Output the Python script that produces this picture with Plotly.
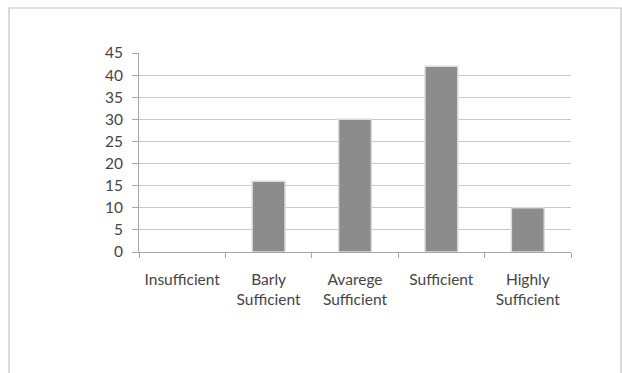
import plotly.graph_objects as go

categories = ["Insufficient", "Barly<br>Sufficient", "Avarege<br>Sufficient", "Sufficient", "Highly<br>Sufficient"]
values = [0, 16, 30, 42, 10]
y_ticks = [0, 5, 10, 15, 20, 25, 30, 35, 40, 45]

W, H = 622, 373
L, R, T, B = 139, 51, 53, 121
pw, ph = W - L - R, H - T - B

fig = go.Figure(go.Bar(
    x=categories, y=values,
    marker=dict(color="#8c8c8c",
                line=dict(color="#dcdcdc", width=[1.5 if v > 0 else 0 for v in values])),
))

fig.update_layout(
    width=W, height=H,
    margin=dict(l=L, r=R, t=T, b=B),
    paper_bgcolor="white", plot_bgcolor="white",
    bargap=0.62,
    showlegend=False,
    font=dict(family="Lato, Open Sans, sans-serif", size=15.5, color="#454545"),
    shapes=[dict(
        type="rect", xref="paper", yref="paper",
        x0=(9 - L) / pw, x1=(621 - L) / pw,
        y0=-(380 - (H - B)) / ph,
        y1=((H - B) - 8) / ph,
        line=dict(color="#c4c4c4", width=1.2),
        fillcolor="rgba(0,0,0,0)", layer="below",
    )],
)

fig.update_xaxes(
    type="category",
    showline=True, linecolor="#a6a6a6", linewidth=1,
    ticks="outside", tickson="boundaries", ticklen=5, tickcolor="#a6a6a6",
    ticklabelstandoff=13,
    showgrid=False, zeroline=False,
)
fig.update_yaxes(
    range=[0, 45], tickvals=y_ticks,
    showline=True, linecolor="#a6a6a6", linewidth=1,
    ticks="outside", ticklen=6, tickcolor="#a6a6a6",
    showgrid=True, gridcolor="#c8c8c8", gridwidth=1,
    zeroline=False, ticklabelstandoff=6,
)

fig.write_html("out.html", config={"displayModeBar": False},
               post_script="document.body.style.margin='0px';")
